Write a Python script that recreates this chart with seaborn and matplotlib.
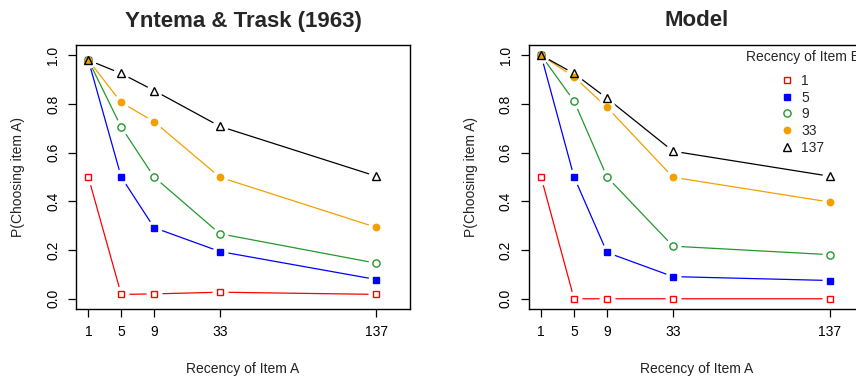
import numpy as np
import pandas as pd
import matplotlib
matplotlib.use("Agg")
import matplotlib.pyplot as plt
from matplotlib.lines import Line2D
import seaborn as sns

# ---------------- data ----------------
recency_a = [1, 5, 9, 33, 137]
recency_b = ["1", "5", "9", "33", "137"]

yntema_b1 = [0.50, 0.018, 0.020, 0.027, 0.018]
yntema_b5 = [0.98, 0.50, 0.292, 0.194, 0.079]
yntema_b9 = [0.98, 0.705, 0.50, 0.267, 0.146]
yntema_b33 = [0.98, 0.806, 0.727, 0.499, 0.293]
yntema_b137 = [0.98, 0.925, 0.855, 0.708, 0.503]

model_b1 = [0.50, 0.0, 0.0, 0.0, 0.0]
model_b5 = [1.0, 0.50, 0.19, 0.091, 0.075]
model_b9 = [1.0, 0.812, 0.50, 0.216, 0.181]
model_b33 = [1.0, 0.911, 0.786, 0.499, 0.397]
model_b137 = [1.0, 0.925, 0.823, 0.606, 0.503]

yticks = [0.0, 0.2, 0.4, 0.6, 0.8, 1.0]
ytick_labels = ["0.0", "0.2", "0.4", "0.6", "0.8", "1.0"]

# ---------------- styles ----------------
colors = ["#FF0000", "#0000FF", "#22992A", "#F2A000", "#000000"]
markers = ["s", "s", "o", "o", "^"]
filled = [False, True, False, True, False]
msizes = [4.4, 5.0, 5.2, 4.6, 6.4]

sns.set_theme(style="ticks")
plt.rcParams["font.family"] = ["Liberation Sans", "DejaVu Sans"]

# uneven axis spacing used by the original figure
scale_lag = [-3.0, 1.0, 9.0, 33.0, 137.0, 250.0]
scale_pos = [0.0, 1.0, 3.0, 5.0, 9.76, 9.76 + (250 - 137) * 4.76 / 104]


def fwd(x):
    return np.interp(x, scale_lag, scale_pos)


def inv(p):
    return np.interp(p, scale_pos, scale_lag)


fig = plt.figure(figsize=(8.56, 3.76), dpi=100)
W, H = 856.0, 376.0
ax1 = fig.add_axes([76 / W, 1 - 309 / H, 334 / W, 264 / H])
ax2 = fig.add_axes([528.7 / W, 1 - 309 / H, 335 / W, 264 / H])


def draw_panel(ax, series, title):
    for i, vals in enumerate(series):
        df = pd.DataFrame({"lag": recency_a, "p": vals})
        sns.lineplot(data=df, x="lag", y="p", ax=ax, color=colors[i],
                     lw=0.9, zorder=2, sort=False, errorbar=None)
    # white gaps around the points (like R's type = "b")
    for i, vals in enumerate(series):
        ax.plot(recency_a, vals, linestyle="none", marker="o",
                markersize=11.5, markerfacecolor="white",
                markeredgecolor="white", markeredgewidth=0, zorder=3)
    for i, vals in enumerate(series):
        ax.plot(recency_a, vals, linestyle="none",
                marker=markers[i], markersize=msizes[i],
                markerfacecolor=colors[i] if filled[i] else "none",
                markeredgecolor=colors[i], markeredgewidth=1.0,
                zorder=4 + i)
    ax.set_xscale("function", functions=(fwd, inv))
    ax.set_xlim(-0.5, 159.3)
    ax.set_ylim(-0.042, 1.042)
    ax.set_xticks(recency_a)
    ax.set_xticklabels([str(v) for v in recency_a])
    ax.set_yticks(yticks)
    ax.set_yticklabels(ytick_labels, rotation=90, va="center")
    ax.minorticks_off()
    ax.tick_params(axis="both", length=5.5, width=0.9, labelsize=10,
                   pad=6, color="black", labelcolor="black", direction="out")
    for s in ax.spines.values():
        s.set_linewidth(1.0)
        s.set_color("black")
    ax.set_xlabel("Recency of Item A", fontsize=10, color="#222222")
    ax.set_ylabel("P(Choosing item A)", fontsize=10, color="#222222")
    ax.xaxis.set_label_coords(0.5, (309 - 369) / 264.0)
    ax.xaxis.label.set_va("center")
    ax.yaxis.set_label_coords((18 - 76) / 334.0, 0.5)
    ax.yaxis.label.set_va("center")
    ax.set_title(title, fontsize=16, fontweight="bold", y=(309 - 21) / 264.0,
                 va="center", pad=0)


draw_panel(ax1, [yntema_b1, yntema_b5, yntema_b9, yntema_b33, yntema_b137],
           "Yntema & Trask (1963)")
draw_panel(ax2, [model_b1, model_b5, model_b9, model_b33, model_b137], "Model")

handles = []
for i in range(len(recency_b)):
    handles.append(Line2D([], [], linestyle="none", marker=markers[i],
                          markersize=msizes[i],
                          markerfacecolor=colors[i] if filled[i] else "none",
                          markeredgecolor=colors[i], markeredgewidth=1.0))
leg = ax2.legend(handles=handles, labels=recency_b, title="Recency of Item B",
                 loc="upper center", bbox_to_anchor=(803 / W, 1 - 50 / H),
                 bbox_transform=fig.transFigure, frameon=False, fontsize=10,
                 title_fontsize=10, handlelength=0.8, handletextpad=0.6,
                 labelspacing=0.2, borderpad=0, borderaxespad=0)
leg._legend_box.sep = 7.0

fig.savefig("out.png", dpi=100)
